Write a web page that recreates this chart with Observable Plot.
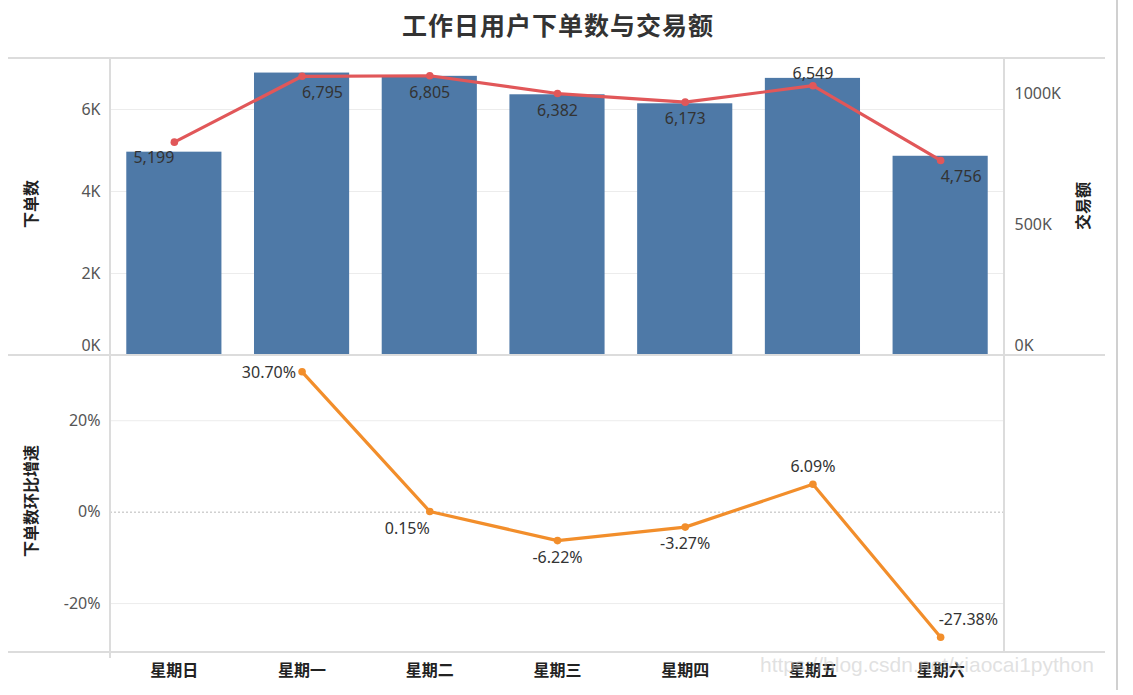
<!DOCTYPE html>
<html>
<head>
<meta charset="utf-8">
<script src="https://cdn.jsdelivr.net/npm/d3@7"></script>
<script src="https://cdn.jsdelivr.net/npm/@observablehq/plot@0.6"></script>
<style>
  html, body { margin: 0; padding: 0; background: #fff; }
  #chart { position: relative; width: 1133px; height: 695px; background: #fff; overflow: hidden; }
  .layer { position: absolute; left: 0; }
  .hline { position: absolute; height: 2px; background: #dcdcdc; }
  .vline { position: absolute; width: 2px; background: #dcdcdc; }
  .title { position: absolute; top: 6px; left: 0; width: 1116px; text-align: center;
           font-family: "Noto Sans CJK SC", sans-serif; font-weight: 700; font-size: 25px; color: #333; letter-spacing: 1px; }
  .ytitle { position: absolute; font-family: "Noto Sans CJK SC", sans-serif; font-weight: 700; font-size: 16px;
            color: #222; white-space: nowrap; transform: translate(-50%, -50%) rotate(-90deg); }
  .wm { position: absolute; left: 760px; top: 653px; font-family: "Liberation Sans", Arial, sans-serif;
        font-size: 21px; color: rgba(195,195,195,0.5); white-space: nowrap; }
</style>
</head>
<body>
<div id="chart"></div>
<script>
// ---- data ----
const days = ["星期日", "星期一", "星期二", "星期三", "星期四", "星期五", "星期六"];
const barValues = [4960, 6890, 6810, 6360, 6140, 6760, 4860];          // 下单数 bar heights
const orderLabels = [5199, 6795, 6805, 6382, 6173, 6549, 4756];        // printed labels
const amounts = [816000, 1068000, 1070000, 1002000, 969000, 1032000, 746000]; // 交易额
const growth = [null, 30.70, 0.15, -6.22, -3.27, 6.09, -27.38];        // 下单数环比增速 (%)
const leftTicks = [0, 2000, 4000, 6000];
const rightTicks = [0, 500000, 1000000];
const growthTicks = [-0.2, 0, 0.2];

const rows = days.map((d, i) => ({day: d, bar: barValues[i], label: orderLabels[i], amount: amounts[i],
  growth: growth[i] == null ? null : growth[i] / 100}));
const growthRows = rows.filter(r => r.growth != null);

// ---- layout / style ----
const W = 1133, mL = 110, mR = W - 1004;
const topY = 58, midY = 355, botY = 652;
const blue = "#4e79a7", red = "#e15759", orange = "#f28e2b";
const font = "Noto Sans, sans-serif";
const xScale = {type: "band", domain: days, paddingInner: 0.255, paddingOuter: 0.1275, round: false};
const base = {width: W, marginLeft: mL, marginRight: mR, x: xScale,
  style: {fontFamily: font, fontSize: "16px", color: "#555", background: "transparent", overflow: "visible"}};

// label placement (style only)
const topPlace = {"星期日": ["end", 0, 16], "星期一": ["start", 0, 17], "星期二": ["middle", 0, 17],
  "星期三": ["middle", 0, 17], "星期四": ["middle", 0, 17], "星期五": ["middle", 0, -12], "星期六": ["start", 0, 16]};
const botPlace = {"星期一": ["end", -6, 1], "星期二": ["end", 0, 17], "星期三": ["middle", 0, 17],
  "星期四": ["middle", 0, 17], "星期五": ["middle", 0, -17], "星期六": ["start", -2, -17]};

function placedText(data, place, yField, fmt) {
  return Object.entries(place).map(([day, [anchor, dx, dy]]) =>
    Plot.text(data.filter(r => r.day === day), {x: "day", y: yField, text: fmt, textAnchor: anchor,
      dx, dy, fill: "#333", fontSize: 16}));
}

const chart = document.getElementById("chart");
function addLayer(svg, top) {
  const d = document.createElement("div");
  d.className = "layer";
  d.style.top = top + "px";
  d.appendChild(svg);
  chart.appendChild(d);
}

// Top panel: bars + left axis
const plotBars = Plot.plot({
  ...base, height: midY - topY, marginTop: 0, marginBottom: 0,
  y: {domain: [0, 7245]},
  marks: [
    Plot.ruleY(leftTicks.filter(t => t > 0), {stroke: "#ececec", strokeWidth: 1}),
    Plot.barY(rows, {x: "day", y: "bar", fill: blue}),
    Plot.axisY(leftTicks.filter(t => t > 0), {anchor: "left", tickSize: 0, tickPadding: 10,
      tickFormat: d => d / 1000 + "K", label: null, fill: "#555", fontSize: 16}),
    Plot.axisY([0], {anchor: "left", tickSize: 0, tickPadding: 10, dy: -10,
      tickFormat: d => d / 1000 + "K", label: null, fill: "#555", fontSize: 16}),
    Plot.axisX({ticks: [], label: null})
  ]
});
addLayer(plotBars, topY);

// Top panel: line + right axis
const plotLine = Plot.plot({
  ...base, height: midY - topY, marginTop: 0, marginBottom: 0,
  y: {domain: [0, 1136000]},
  marks: [
    Plot.lineY(rows, {x: "day", y: "amount", stroke: red, strokeWidth: 3.2}),
    Plot.dot(rows, {x: "day", y: "amount", fill: red, r: 3.8}),
    ...placedText(rows, topPlace, "amount", r => d3.format(",")(r.label)),
    Plot.axisY(rightTicks.filter(t => t > 0), {anchor: "right", tickSize: 0, tickPadding: 10,
      tickFormat: d => d / 1000 + "K", label: null, fill: "#555", fontSize: 16}),
    Plot.axisY([0], {anchor: "right", tickSize: 0, tickPadding: 10, dy: -10,
      tickFormat: d => d / 1000 + "K", label: null, fill: "#555", fontSize: 16}),
    Plot.axisX({ticks: [], label: null})
  ]
});
addLayer(plotLine, topY);

// Bottom panel: growth line
const plotGrowth = Plot.plot({
  ...base, height: botY - midY + 40, marginTop: 0, marginBottom: 40,
  y: {domain: [-0.307, 0.3427]},
  marks: [
    Plot.ruleY(growthTicks.filter(t => t !== 0), {stroke: "#ececec", strokeWidth: 1}),
    Plot.ruleY([0], {stroke: "#b8b8b8", strokeWidth: 1, strokeDasharray: "2,2"}),
    Plot.lineY(growthRows, {x: "day", y: "growth", stroke: orange, strokeWidth: 3.2}),
    Plot.dot(growthRows, {x: "day", y: "growth", fill: orange, r: 3.8}),
    ...placedText(growthRows, botPlace, "growth", r => (r.growth * 100).toFixed(2) + "%"),
    Plot.axisY(growthTicks, {anchor: "left", tickSize: 0, tickPadding: 10,
      tickFormat: d => Math.round(d * 100) + "%", label: null, fill: "#555", fontSize: 16}),
    Plot.axisX({anchor: "bottom", tickSize: 0, tickPadding: 12, label: null,
      fontFamily: "Noto Sans CJK SC, sans-serif", fontWeight: "bold", fontSize: 16, fill: "#222"})
  ]
});
addLayer(plotGrowth, midY);

// frame lines
function line(cls, style) {
  const d = document.createElement("div");
  d.className = cls;
  Object.assign(d.style, style);
  chart.appendChild(d);
}
line("hline", {left: "8px", width: "1097px", top: (topY - 1) + "px"});
line("hline", {left: "8px", width: "1097px", top: (midY - 1) + "px"});
line("hline", {left: "8px", width: "1097px", top: (botY - 1) + "px"});
line("vline", {left: (mL - 1) + "px", top: topY + "px", height: (botY - topY + 6) + "px"});
line("vline", {left: "1003px", top: topY + "px", height: (botY - topY) + "px"});
line("vline", {left: "1116px", top: "0px", height: "690px", background: "#d0d0d0"});

// titles
const t = document.createElement("div");
t.className = "title";
t.textContent = "工作日用户下单数与交易额";
chart.appendChild(t);
function ytitle(text, x, y) {
  const d = document.createElement("div");
  d.className = "ytitle";
  d.textContent = text;
  d.style.left = x + "px";
  d.style.top = y + "px";
  chart.appendChild(d);
}
ytitle("下单数", 30, 204);
ytitle("交易额", 1082, 206);
ytitle("下单数环比增速", 30, 501);

const wm = document.createElement("div");
wm.className = "wm";
wm.textContent = "https://blog.csdn.net/xiaocai1python";
chart.appendChild(wm);
</script>
</body>
</html>
